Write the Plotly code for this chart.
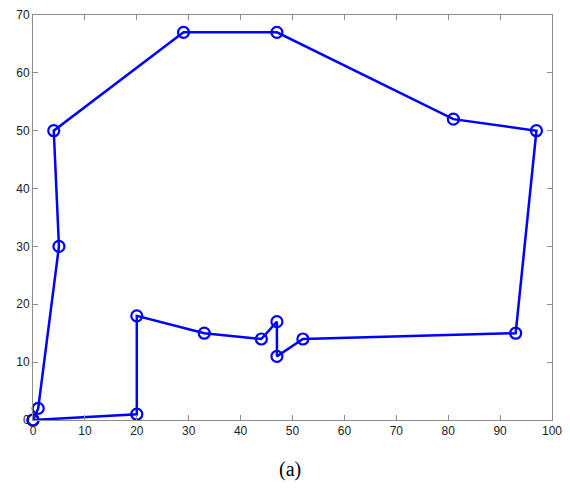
import plotly.graph_objects as go

x_vals = [0, 20, 20, 33, 44, 47, 47, 52, 93, 97, 81, 47, 29, 4, 5, 1, 0]
y_vals = [0, 1, 18, 15, 14, 17, 11, 14, 15, 50, 52, 67, 67, 50, 30, 2, 0]
x_ticks = [0, 10, 20, 30, 40, 50, 60, 70, 80, 90, 100]
y_ticks = [0, 10, 20, 30, 40, 50, 60, 70]
caption = "(a)"

fig = go.Figure()
fig.add_trace(go.Scatter(
    x=x_vals, y=y_vals, mode="lines+markers",
    line=dict(color="#0000ff", width=2.5),
    marker=dict(symbol="circle-open", size=11, color="#0000ff", line=dict(width=2.2)),
    cliponaxis=False, showlegend=False,
))

axis_common = dict(
    showgrid=False, zeroline=False, showline=True, linecolor="#8c8c8c", linewidth=1,
    mirror="allticks", ticks="inside", ticklen=5, tickcolor="#8c8c8c",
    automargin=False, ticklabeloverflow="allow",
    tickfont=dict(family="Liberation Sans, Arial, sans-serif", size=12, color="#222222"),
)
fig.update_xaxes(range=[0, 100], tickvals=x_ticks, **axis_common)
fig.update_yaxes(range=[0, 70], tickvals=y_ticks, **axis_common)

fig.add_annotation(
    text=caption, xref="paper", yref="paper", x=0.495, y=-0.123,
    xanchor="center", yanchor="middle", showarrow=False,
    font=dict(family="Liberation Serif, Times New Roman, serif", size=20, color="#000000"),
)

fig.update_layout(
    width=562, height=480,
    margin=dict(l=25, r=18, t=7, b=68),
    plot_bgcolor="white", paper_bgcolor="white",
)
fig.write_html("out.html")
